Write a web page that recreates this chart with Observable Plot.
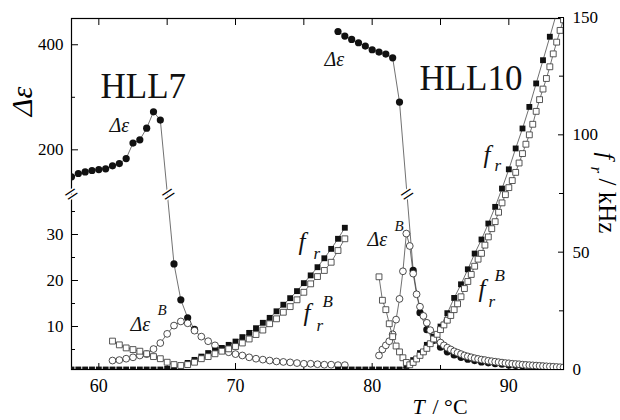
<!DOCTYPE html>
<html><head><meta charset="utf-8">
<script src="https://cdn.jsdelivr.net/npm/d3@7"></script>
<script src="https://cdn.jsdelivr.net/npm/@observablehq/plot@0.6"></script>
<style>
body{margin:0;background:#fff;}
#chart{position:relative;width:620px;height:420px;}
#chart svg{position:absolute;left:0;top:0;}
</style></head><body><div id="chart"></div>
<script>
// ---------- data (T in °C) ----------
// HLL7  Δε (filled circles)
const hll7EpsT = [58,58.5,59,59.5,60,60.5,61,61.5,62,62.5,63,63.5,64,64.5,65.5,66,66.5,67];
const hll7Eps  = [148.6,154.9,158,160.6,162.5,163.8,169.5,173.9,183.4,212.8,219,241.3,272.4,256.6,23.6,15.8,11.9,9.4];
// HLL7  Δε^B (open circles)
const hll7EpsBT = [61,61.5,62,62.5,63,63.5,64,64.5,65,65.5,66,66.5,67,67.5,68,68.5,69,69.5,70,70.5,71,71.5,72,72.5,73,73.5,74,74.5,75,75.5,76,76.5,77,77.5,78];
const hll7EpsB  = [2.6,2.7,3.0,3.3,3.7,4.0,5.1,6.4,8.4,10.2,11.1,10.7,9.1,7.8,6.8,5.9,5.0,4.4,4.0,3.7,3.3,3.0,2.8,2.6,2.4,2.3,2.2,2.05,1.9,1.9,1.8,1.7,1.7,1.6,1.6];
// HLL7  f_r (filled squares, kHz)
const hll7FrT = [58,58.5,59,59.5,60,60.5,61,61.5,62,62.5,63,63.5,64,64.5,65,65.5,66,66.5,67,67.5,68,68.5,69,69.5,70,70.5,71,71.5,72,72.5,73,73.5,74,74.5,75,75.5,76,76.5,77,77.5,78];
const hll7Fr  = [0,0,0,0,0,0,0,0,0,0,0,0,0,0,0.3,0.8,1.6,2.8,4.1,5.5,7.0,8.1,9.2,10.5,11.9,13.8,15.6,17.6,19.9,22.0,24.8,27.6,30.4,33.4,36.8,40.1,43.6,47.4,51.4,55.7,60.4];
// HLL7  f_r^B (open squares, kHz)
const hll7FrBT = [61,61.5,62,62.5,63,63.5,64,64.5,65,65.5,66,66.5,67,67.5,68,68.5,69,69.5,70,70.5,71,71.5,72,72.5,73,73.5,74,74.5,75,75.5,76,76.5,77,77.5,78];
const hll7FrB  = [12.1,10.5,9.2,8.5,7.8,6.7,5.5,4.6,3.1,2.1,1.7,2.1,3.1,4.6,5.5,6.7,7.8,8.8,9.8,11.3,13.0,14.9,16.8,19.5,21.6,24.4,26.8,29.7,32.9,36.5,39.6,42.2,45.7,50.7,55.7];
// HLL10 Δε (filled circles)
const hll10EpsT = [77.5,78,78.5,79,79.5,80,80.5,81,81.5,82,83,83.5,84,84.5,85,85.5,86,86.5,87,87.5,88,88.5,89,89.5,90,90.5,91,91.5,92,92.5,93,93.5,94];
const hll10Eps  = [425.3,416.6,410.1,403.8,397.5,390.5,386.1,382.3,375.2,290.9,22.2,13.0,9.3,7.0,5.5,4.5,3.8,3.3,2.9,2.6,2.3,2.1,1.95,1.8,1.65,1.55,1.45,1.35,1.25,1.15,1.05,1.0,0.95];
// HLL10 Δε^B (open circles)
const hll10EpsBT = [80.5,80.75,81,81.25,81.5,81.75,82,82.25,82.5,82.75,83,83.25,83.5,83.75,84,84.25,84.5,84.75,85,85.25,85.5,85.75,86,86.25,86.5,86.75,87,87.25,87.5,87.75,88,88.25,88.5,88.75,89,89.25,89.5,89.75,90,90.25,90.5,90.75,91,91.25,91.5,91.75,92,92.25,92.5,92.75,93,93.25,93.5,93.75,94];
const hll10EpsB  = [3.7,5.0,5.9,6.8,8.3,11.5,16.0,22.0,30.2,27.5,21.5,17.0,14.3,12.3,10.8,9.2,8.0,7.2,6.5,5.9,5.4,5.0,4.6,4.3,4.0,3.7,3.5,3.3,3.1,2.95,2.8,2.7,2.55,2.45,2.35,2.25,2.15,2.05,2.0,1.9,1.85,1.8,1.7,1.65,1.6,1.55,1.5,1.45,1.4,1.35,1.3,1.25,1.2,1.15,1.1];
// HLL10 f_r (filled squares, kHz)
const hll10FrT = [77.5,78,78.5,79,79.5,80,80.5,81,81.5,82,82.5,83,83.5,84,84.5,85,85.5,86,86.5,87,87.5,88,88.5,89,89.5,90,90.5,91,91.5,92,92.5,93,93.5,94];
const hll10Fr  = [0,0,0,0,0,0,0,0,0,0,1.5,4.0,7.0,10.5,14.0,18.3,24.0,30.5,36.3,42.7,49.4,55.4,62.2,69.3,77.1,85.3,94.2,102.7,111.9,121.9,131.8,141.8,152,162];
// HLL10 f_r^B (open squares, kHz)
const hll10FrBT = hll10EpsBT;
const hll10FrB  = [39.5,29.5,25.5,19.5,14,10,7.5,5,3,2,3,4.5,6,7.5,9,11,13,15,17,19,21,23,25.5,28,31,34.5,37.5,40.5,44,47,49.5,53,56.5,60,63,67,71,74.5,77.5,80.5,84,88,92,96,100,104.5,110,115,119.5,124,129,134.5,139.5,144.5,149];

// ---------- axes ----------
const xDomain = [58, 94];
const xMajor = [60, 70, 80, 90];
const xMinor = [65, 75, 85];
const xTop = [60, 65, 70, 75, 80, 85, 90];
const epsLabels = [10, 20, 30, 200, 400];
const epsMinor = [5, 15, 25, 35, 300];
const epsBreakDomain = [0, 38, 122, 450];   // broken Δε axis
const frLabels = [0, 50, 100, 150];
const frMinor = [25, 75, 125];
const breakT = [58, 65.1, 82.56];           // where the "//" break marks sit
const breakEps = 80;                         // value inside the axis gap

// ---------- annotations (T, f in kHz) ----------
const bigLabels = [
  {T: 60.12, f: 115.9, s: "HLL7"},
  {T: 83.46, f: 118.9, s: "HLL10"}
];
const italicLabels = [
  {T: 60.78, f: 101.0, s: "Δε", size: 20},
  {T: 76.51, f: 129.5, s: "Δε", size: 20},
  {T: 62.32, f: 16.6, s: "Δε", size: 20},
  {T: 64.29, f: 23.4, s: "B", size: 15},
  {T: 79.66, f: 52.8, s: "Δε", size: 20},
  {T: 81.63, f: 59.2, s: "B", size: 15},
  {T: 74.61, f: 51.1, s: "f", size: 25},
  {T: 75.71, f: 46.9, s: "r", size: 17},
  {T: 74.98, f: 20.5, s: "f", size: 25},
  {T: 75.93, f: 16.2, s: "r", size: 17},
  {T: 76.37, f: 26.8, s: "B", size: 17},
  {T: 88.15, f: 87.8, s: "f", size: 25},
  {T: 88.95, f: 84.4, s: "r", size: 17},
  {T: 87.78, f: 31.1, s: "f", size: 25},
  {T: 88.51, f: 26.8, s: "r", size: 17},
  {T: 88.95, f: 37.9, s: "B", size: 17}
];

const pts = (T, V) => T.map((t, i) => ({T: t, v: V[i]}));
const e7 = pts(hll7EpsT, hll7Eps), e7B = pts(hll7EpsBT, hll7EpsB);
const e10 = pts(hll10EpsT, hll10Eps), e10B = pts(hll10EpsBT, hll10EpsB);
const f7 = pts(hll7FrT, hll7Fr), f7B = pts(hll7FrBT, hll7FrB);
const f10 = pts(hll10FrT, hll10Fr), f10B = pts(hll10FrBT, hll10FrB);

const W = 620, H = 420, mL = 71, mR = 57, mT = 18, mB = 51;
const font = "'Liberation Serif', 'Times New Roman', serif";
const lineStyle = {x: "T", y: "v", stroke: "#333", strokeWidth: 0.7, clip: true};
const noText = () => "";

const plotA = Plot.plot({
  width: W, height: H, marginLeft: mL, marginRight: mR, marginTop: mT, marginBottom: mB,
  style: {fontFamily: font, fontSize: "17px", background: "white", color: "black"},
  x: {domain: xDomain},
  y: {type: "linear", domain: epsBreakDomain, range: [372, 197.2, 190.3, 18]},
  marks: [
    Plot.frame({stroke: "black", strokeWidth: 1.2}),
    Plot.axisX(xMajor, {anchor: "bottom", tickSize: 0, tickPadding: 10, label: null, fontSize: 18}),
    Plot.axisX(xMajor, {anchor: "bottom", tickSize: 6, dy: -6, tickFormat: noText, label: null}),
    Plot.axisX(xMinor, {anchor: "bottom", tickSize: 4, dy: -4, tickFormat: noText, label: null}),
    Plot.axisX(xTop, {anchor: "top", tickSize: 6, dy: 6, tickFormat: noText, label: null}),
    Plot.axisY(epsLabels, {anchor: "left", tickSize: 0, tickPadding: 8, label: null}),
    Plot.axisY(epsLabels, {anchor: "left", tickSize: 7, dx: 7, tickFormat: noText, label: null}),
    Plot.axisY(epsMinor, {anchor: "left", tickSize: 4, dx: 4, tickFormat: noText, label: null}),
    Plot.line(e7, lineStyle),
    Plot.line(e7B, lineStyle),
    Plot.line(e10, lineStyle),
    Plot.line(e10B, lineStyle),
    Plot.dot(e7, {x: "T", y: "v", r: 3.6, fill: "#111", clip: true}),
    Plot.dot(e10, {x: "T", y: "v", r: 3.6, fill: "#111", clip: true}),
    Plot.dot(e7B, {x: "T", y: "v", r: 3.4, fill: "white", stroke: "#222", strokeWidth: 0.8, clip: true}),
    Plot.dot(e10B, {x: "T", y: "v", r: 3.4, fill: "white", stroke: "#222", strokeWidth: 0.8, clip: true}),
    Plot.text(breakT, {x: d => d, y: () => breakEps, text: () => "=", rotate: -33, fontSize: 24,
      fill: "black", stroke: "white", strokeWidth: 3, textAnchor: "middle", lineAnchor: "middle"}),
    Plot.text(["Δε"], {frameAnchor: "left", dx: -49.5, dy: -92.5, rotate: -90, fontSize: 30,
      fontStyle: "italic", textAnchor: "middle", lineAnchor: "middle"}),
    Plot.text(["T"], {frameAnchor: "bottom", dx: 95, dy: 44, textAnchor: "start", lineAnchor: "bottom",
      fontSize: 22, fontStyle: "italic"}),
    Plot.text(["/ °C"], {frameAnchor: "bottom", dx: 115, dy: 44, textAnchor: "start", lineAnchor: "bottom",
      fontSize: 22})
  ]
});

const sq = {x: "T", y: "v", symbol: "square", r: 3.3, clip: true};
const plotB = Plot.plot({
  width: W, height: H, marginLeft: mL, marginRight: mR, marginTop: mT, marginBottom: mB,
  style: {fontFamily: font, fontSize: "17px", background: "transparent", color: "black"},
  x: {domain: xDomain, axis: null},
  y: {type: "linear", domain: [0, 150], range: [369, 17]},
  marks: [
    Plot.axisY(frLabels, {anchor: "right", tickSize: 0, tickPadding: 9, label: null}),
    Plot.axisY(frLabels, {anchor: "right", tickSize: 6, dx: -6, tickFormat: noText, label: null}),
    Plot.axisY(frMinor, {anchor: "right", tickSize: 5, dx: -5, tickFormat: noText, label: null}),
    Plot.line(f7, lineStyle),
    Plot.line(f7B, lineStyle),
    Plot.line(f10, lineStyle),
    Plot.line(f10B, lineStyle),
    Plot.dot(f7, {...sq, fill: "#111"}),
    Plot.dot(f10, {...sq, fill: "#111"}),
    Plot.dot(f7B, {...sq, fill: "white", stroke: "#444", strokeWidth: 0.9}),
    Plot.dot(f10B, {...sq, fill: "white", stroke: "#444", strokeWidth: 0.9}),
    Plot.text(bigLabels, {x: "T", y: "f", text: "s", fontSize: 35, textAnchor: "start", lineAnchor: "bottom", fill: "#111"}),
    Plot.text(italicLabels, {x: "T", y: "f", text: "s", fontSize: d => d.size, fontStyle: "italic",
      textAnchor: "start", lineAnchor: "bottom", fill: "#111"}),
    Plot.text(["f"], {frameAnchor: "right", dx: 35, dy: -41.5, rotate: 90, fontSize: 24, fontStyle: "italic",
      textAnchor: "start", lineAnchor: "bottom"}),
    Plot.text(["r"], {frameAnchor: "right", dx: 27, dy: -27.5, rotate: 90, fontSize: 17, fontStyle: "italic",
      textAnchor: "start", lineAnchor: "bottom"}),
    Plot.text(["/ kHz"], {frameAnchor: "right", dx: 35, dy: -15.5, rotate: 90, fontSize: 25,
      textAnchor: "start", lineAnchor: "bottom"})
  ]
});
plotB.style.pointerEvents = "none";

const host = document.getElementById("chart");
host.appendChild(plotA);
host.appendChild(plotB);
</script></body></html>
